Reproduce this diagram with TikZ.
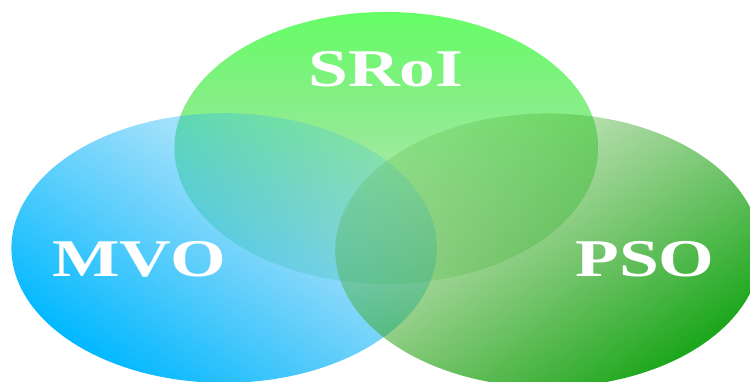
\documentclass[tikz,border=0pt]{standalone}
\usepackage{fontspec}
\setmainfont{Liberation Serif}
\usetikzlibrary{fadings}
\tikzfading[name=fadetop, top color=transparent!78, bottom color=transparent!0]
\tikzfading[name=fadeside, top color=transparent!80, bottom color=transparent!0]
\begin{document}
\begin{tikzpicture}[x=1pt,y=1pt,
  lbl/.style={text=white,font=\fontsize{53}{53}\selectfont\bfseries,anchor=base,inner sep=0pt}]
\useasboundingbox (0,0) rectangle (750,382);
\clip (0,0) rectangle (750,382);
\shade[top color={rgb,255:red,102;green,255;blue,102},bottom color={rgb,255:red,70;green,190;blue,70},
  path fading=fadetop, fading angle=180]
  (386,234) ellipse [x radius=212,y radius=136];
\shade[top color={rgb,255:red,40;green,180;blue,240},bottom color={rgb,255:red,0;green,184;blue,255},shading angle=-45,
  path fading=fadeside, fading angle=-45]
  (225,134) ellipse [x radius=213,y radius=135];
\shade[top color={rgb,255:red,74;green,170;blue,46},bottom color={rgb,255:red,26;green,166;blue,26},shading angle=45,
  path fading=fadeside, fading angle=45]
  (548,132) ellipse [x radius=213,y radius=137];
\node[lbl] (sroi) at (386,295) {\scalebox{1.35}[1]{SRoI}};
\node[lbl] (mvo) at (139,105) {\scalebox{1.35}[1]{MVO}};
\node[lbl] (pso) at (645,105) {\scalebox{1.35}[1]{PSO}};
\end{tikzpicture}
\end{document}
